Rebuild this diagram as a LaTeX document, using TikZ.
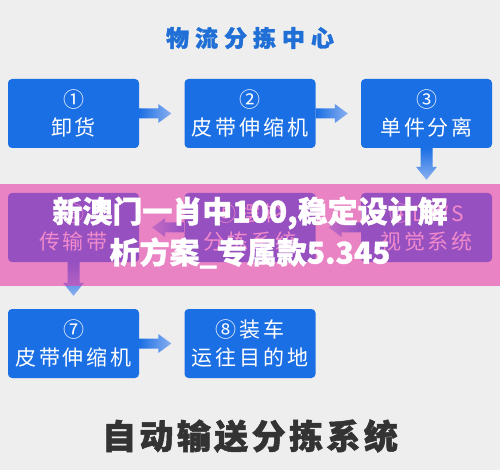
\documentclass[tikz,border=0pt]{standalone}
\usepackage{fontspec}
\usetikzlibrary{calc}
\newfontfamily\cjk[BoldFeatures={FakeBold=1.2}]{Noto Sans CJK SC}
\newfontfamily\cjkbox[LetterSpace=14]{Noto Sans CJK SC}
\newfontfamily\cjktitle[LetterSpace=26,BoldFeatures={FakeBold=1.5}]{Noto Sans CJK SC}
\newfontfamily\cjkbottom[LetterSpace=10,BoldFeatures={FakeBold=1.5}]{Noto Sans CJK SC}
\definecolor{bgcol}{HTML}{EEEEEE}
\definecolor{boxblue}{HTML}{1B6FE4}
\definecolor{titleblue}{HTML}{1F6FD6}
\definecolor{arrlight}{HTML}{8AB0F0}
\definecolor{darktxt}{HTML}{333333}
\definecolor{bandpink}{RGB}{232,60,168}
\tikzset{
  stepbox/.style={rectangle, rounded corners=4pt, fill=boxblue, text=white,
    minimum width=131pt, minimum height=69pt, inner sep=0pt, align=center,
    font=\cjkbox\fontsize{21}{28}\selectfont},
  titletext/.style={inner sep=0pt, text=titleblue, font=\cjktitle\bfseries\fontsize{23}{26}\selectfont},
  bottomtext/.style={inner sep=0pt, text=darktxt, font=\cjkbottom\bfseries\fontsize{34}{38}\selectfont},
  marktext/.style={inner sep=0pt, text=white, font=\cjk\bfseries\fontsize{30}{40}\selectfont},
}
% right-pointing arrow from node #1 to node #2
\newcommand\rarrow[2]{%
  \shade[left color=boxblue, right color=arrlight]
    ($(#1.east)+(0,-5)$) -- ($(#2.west)+(-26,-5)$) -- ($(#2.west)+(-26,-9.5)$)
    -- ($(#2.west)+(-13,0)$) -- ($(#2.west)+(-26,9.5)$) -- ($(#2.west)+(-26,5)$)
    -- ($(#1.east)+(0,5)$) -- cycle;}
% left-pointing arrow from node #1 (right) to node #2 (left)
\newcommand\larrow[2]{%
  \shade[right color=boxblue, left color=arrlight]
    ($(#1.west)+(0,-5)$) -- ($(#2.east)+(26,-5)$) -- ($(#2.east)+(26,-9.5)$)
    -- ($(#2.east)+(13,0)$) -- ($(#2.east)+(26,9.5)$) -- ($(#2.east)+(26,5)$)
    -- ($(#1.west)+(0,5)$) -- cycle;}
% down arrow from node #1 to node #2
\newcommand\darrow[2]{%
  \shade[top color=boxblue, bottom color=arrlight]
    ($(#1.south)+(-6,0)$) -- ($(#2.north)+(-6,-26)$) -- ($(#2.north)+(-10.5,-26)$)
    -- ($(#2.north)+(0,-13)$) -- ($(#2.north)+(10.5,-26)$) -- ($(#2.north)+(6,-26)$)
    -- ($(#1.south)+(6,0)$) -- cycle;}
\begin{document}
\begin{tikzpicture}[x=1pt,y=-1pt]
\fill[bgcol] (0,0) rectangle (500,470);
\useasboundingbox (0,0) rectangle (500,470);

\node[titletext] (title) at (250,38) {物流分拣中心};

\node[stepbox] (b1) at (73.5,113.5) {①\\卸货};
\node[stepbox] (b2) at (250,113.5) {②\\皮带伸缩机};
\node[stepbox] (b3) at (426.5,113.5) {③\\单件分离};

\node[stepbox] (b4) at (426.5,227.5) {④DWS\\视觉系统};
\node[stepbox] (b5) at (250,227.5) {⑤摆轮\\分拣系统};
\node[stepbox] (b6) at (73.5,227.5) {⑥\\传输带};

\node[stepbox] (b7) at (73.5,343.5) {⑦\\皮带伸缩机};
\node[stepbox] (b8) at (250,343.5) {⑧装车\\运往目的地};

\rarrow{b1}{b2}
\rarrow{b2}{b3}
\darrow{b3}{b4}
\larrow{b4}{b5}
\larrow{b5}{b6}
\darrow{b6}{b7}
\rarrow{b7}{b8}

\node[bottomtext] (bottom) at (250,436) {自动输送分拣系统};

\fill[bandpink, opacity=0.6] (0,184) rectangle (500,286);
\node[marktext] (mark1) at (250,213) {新澳门一肖中100,稳定设计解};
\node[marktext] (mark2) at (250,253) {析方案\_专属款5.345};
\end{tikzpicture}
\end{document}
